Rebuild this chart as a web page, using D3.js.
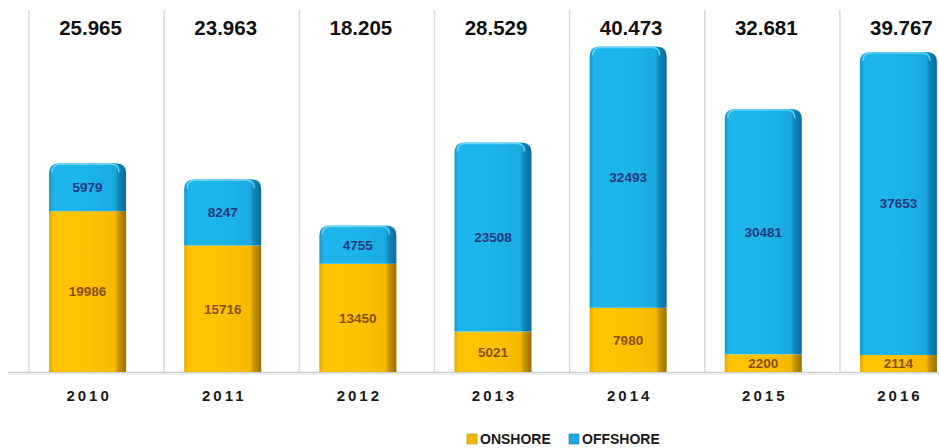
<!DOCTYPE html>
<html>
<head>
<meta charset="utf-8">
<script src="https://cdn.jsdelivr.net/npm/d3@7"></script>
<style>
  html, body { margin: 0; padding: 0; background: #fff; }
  svg { display: block; }
  text { font-family: "Liberation Sans", Arial, sans-serif; font-weight: bold; }
</style>
</head>
<body>
<svg id="chart" width="939" height="448"></svg>
<script>
const years = ["2010", "2011", "2012", "2013", "2014", "2015", "2016"];
const onshore = [19986, 15716, 13450, 5021, 7980, 2200, 2114];
const offshore = [5979, 8247, 4755, 23508, 32493, 30481, 37653];
const seriesNames = ["ONSHORE", "OFFSHORE"];

const W = 939, H = 448;
const baseY = 372, topY = 10;
const svg = d3.select("#chart");

const x = d3.scaleBand().domain(years).range([20, 966]).paddingInner(0.43).paddingOuter(0.215);
const y = d3.scaleLinear().domain([0, 45000]).range([baseY, topY]);
const fmt = d3.formatLocale({ decimal: ",", thousands: ".", grouping: [3], currency: ["", ""] }).format(",d");

const defs = svg.append("defs");
function grad(id, stops) {
  const g = defs.append("linearGradient").attr("id", id).attr("x1", "0").attr("x2", "1").attr("y1", "0").attr("y2", "0");
  stops.forEach(s => g.append("stop").attr("offset", s[0]).attr("stop-color", s[1]));
}
grad("gOn", [[0, "#E0A800"], [0.06, "#FFC400"], [0.5, "#FFC200"], [0.86, "#F5B800"], [0.9, "#C99500"], [1, "#9A7000"]]);
grad("gOff", [[0, "#1497CC"], [0.06, "#1DB6EC"], [0.5, "#1DB4EA"], [0.86, "#18A9DF"], [0.9, "#0F86BA"], [1, "#0B6E99"]]);

// vertical gridlines
svg.append("g").selectAll("line").data(years).join("line")
  .attr("x1", d => x(d) + x.bandwidth() / 2 - 58.5)
  .attr("x2", d => x(d) + x.bandwidth() / 2 - 58.5)
  .attr("y1", topY).attr("y2", baseY)
  .attr("stroke", "#d9d9d9").attr("stroke-width", 1.5);

// baseline
svg.append("line").attr("x1", 8).attr("x2", W).attr("y1", baseY + 0.5).attr("y2", baseY + 0.5)
  .attr("stroke", "#cfcfcf").attr("stroke-width", 1.5);
svg.append("line").attr("x1", 8).attr("x2", W).attr("y1", baseY + 2).attr("y2", baseY + 2)
  .attr("stroke", "#ececec").attr("stroke-width", 1.5);

const data = years.map((yr, i) => ({ yr, on: onshore[i], off: offshore[i] }));
const r = 10;

function topRounded(x0, y0, w, h, rr) {
  return `M${x0},${y0 + h} V${y0 + rr} Q${x0},${y0} ${x0 + rr},${y0} H${x0 + w - rr} Q${x0 + w},${y0} ${x0 + w},${y0 + rr} V${y0 + h} Z`;
}

const g = svg.append("g");
// onshore
g.selectAll("rect.on").data(data).join("rect").attr("class", "on")
  .attr("x", d => x(d.yr)).attr("width", x.bandwidth())
  .attr("y", d => y(d.on)).attr("height", d => baseY - y(d.on))
  .attr("fill", "url(#gOn)");
// offshore
g.selectAll("path.off").data(data).join("path").attr("class", "off")
  .attr("d", d => topRounded(x(d.yr), y(d.on + d.off), x.bandwidth(), y(d.on) - y(d.on + d.off), r))
  .attr("fill", "url(#gOff)");
// top highlight
g.selectAll("path.hl").data(data).join("path").attr("class", "hl")
  .attr("d", d => {
    const x0 = x(d.yr) + 3, y0 = y(d.on + d.off) + 1, w = x.bandwidth() - 10;
    return `M${x0},${y0 + 8} Q${x0},${y0} ${x0 + 8},${y0} H${x0 + w - 8} Q${x0 + w},${y0} ${x0 + w},${y0 + 8}`;
  })
  .attr("fill", "none").attr("stroke", "#7fd8f7").attr("stroke-width", 1.5).attr("opacity", 0.8);

// value labels
g.selectAll("text.offl").data(data).join("text").attr("class", "offl")
  .attr("x", d => x(d.yr) + x.bandwidth() / 2)
  .attr("y", d => (y(d.on) + y(d.on + d.off)) / 2)
  .attr("dy", "0.36em").attr("text-anchor", "middle")
  .attr("font-size", 13.5).attr("fill", "#1F3A80")
  .text(d => d.off);
g.selectAll("text.onl").data(data).join("text").attr("class", "onl")
  .attr("x", d => x(d.yr) + x.bandwidth() / 2)
  .attr("y", d => (baseY + y(d.on)) / 2)
  .attr("dy", "0.36em").attr("text-anchor", "middle")
  .attr("font-size", 13.5).attr("fill", "#8A4E12")
  .text(d => d.on);

// totals
g.selectAll("text.tot").data(data).join("text").attr("class", "tot")
  .attr("x", d => x(d.yr) + x.bandwidth() / 2 + 3)
  .attr("y", 35).attr("text-anchor", "middle")
  .attr("font-size", 20.5).attr("fill", "#111")
  .text(d => fmt(d.on + d.off));

// x axis labels
const xAxis = d3.axisBottom(x).tickSize(0).tickPadding(0);
const ax = svg.append("g").attr("transform", `translate(0,${baseY})`).call(xAxis);
ax.select(".domain").remove();
ax.selectAll("text").attr("font-size", 15).attr("fill", "#1a1a1a")
  .attr("letter-spacing", "3px").attr("dy", null).attr("y", 29)
  .attr("dx", "1.5px")
  .style("font-family", '"Liberation Sans", Arial, sans-serif').style("font-weight", "bold");

// legend
const legendColors = ["#F2B800", "#1DA8E0"];
const legendX = [467, 569];
const lg = svg.append("g").selectAll("g").data(seriesNames).join("g")
  .attr("transform", (d, i) => `translate(${legendX[i]},434)`);
lg.append("rect").attr("width", 10).attr("height", 10).attr("fill", (d, i) => legendColors[i])
  .attr("stroke", (d, i) => i === 0 ? "#b58a00" : "#1280b0").attr("stroke-width", 0.6);
lg.append("text").attr("x", 13).attr("y", 10).attr("font-size", 14).attr("fill", "#1a1a1a").text(d => d);
</script>
</body>
</html>
